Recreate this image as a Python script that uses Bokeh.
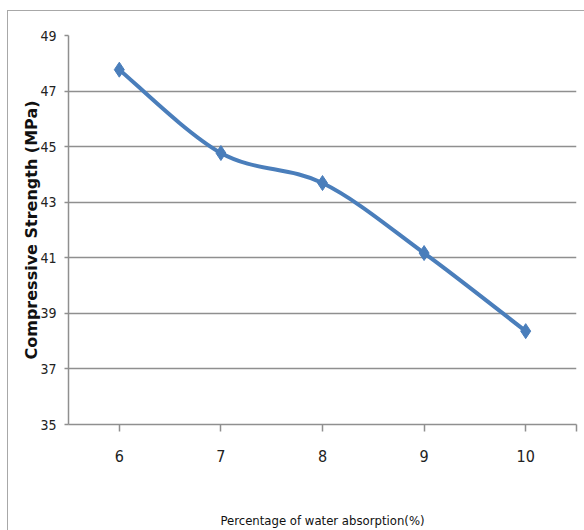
from bokeh.plotting import figure
from bokeh.models import FixedTicker, ColumnDataSource, BoxAnnotation
from bokeh.embed import file_html
from bokeh.resources import INLINE

# data
absorption = [6, 7, 8, 9, 10]
strength = [47.77, 44.77, 43.69, 41.17, 38.36]
y_ticks = [35, 37, 39, 41, 43, 45, 47, 49]
x_ticks = [6, 7, 8, 9, 10]

BLUE = "#4A7EBB"
GRID = "#8f8f8f"
EDGE = "#a8a8a8"
NARROW = "'DejaVu Sans Condensed', 'Liberation Sans', sans-serif"

# smoothed curve (Catmull-Rom style, like Excel's smoothed line)
n = len(absorption)
x0, y0, x1, y1, cx0, cy0, cx1, cy1 = [], [], [], [], [], [], [], []
for i in range(n - 1):
    xa, ya = absorption[i], strength[i]
    xb, yb = absorption[i + 1], strength[i + 1]
    xp, yp = (absorption[i - 1], strength[i - 1]) if i > 0 else (xa, ya)
    xn, yn = (absorption[i + 2], strength[i + 2]) if i + 2 < n else (xb, yb)
    x0.append(xa); y0.append(ya); x1.append(xb); y1.append(yb)
    cx0.append(xa + (xb - xp) / 6.0); cy0.append(ya + (yb - yp) / 6.0)
    cx1.append(xb - (xn - xa) / 6.0); cy1.append(yb - (yn - ya) / 6.0)

curve = ColumnDataSource(dict(x0=x0, y0=y0, x1=x1, y1=y1,
                              cx0=cx0, cy0=cy0, cx1=cx1, cy1=cy1))

p = figure(width=584, height=530, x_range=(5.5, 10.5), y_range=(35, 49),
           output_backend="svg", toolbar_location=None,
           min_border_left=68, min_border_right=8, min_border_top=35,
           min_border_bottom=106)
# outer chart-area border (left and top edges visible in the reference)
p.styles = {
    "background": (f"linear-gradient({EDGE},{EDGE}) 7px 10px / 1px 100% no-repeat, "
                   f"linear-gradient({EDGE},{EDGE}) 7px 10px / 100% 1px no-repeat, white")
}
p.outline_line_color = None
p.background_fill_color = "white"
p.border_fill_alpha = 0

border = BoxAnnotation(left=7.5, right=700, top=10.5, bottom=700,
                       left_units="canvas", right_units="canvas",
                       top_units="canvas", bottom_units="canvas",
                       fill_alpha=0, line_color=EDGE, line_width=1,
                       level="overlay")
p.add_layout(border)

p.bezier(x0="x0", y0="y0", x1="x1", y1="y1", cx0="cx0", cy0="cy0",
         cx1="cx1", cy1="cy1", source=curve, line_color=BLUE, line_width=4)
p.scatter(absorption, strength, marker="diamond", size=15,
          fill_color=BLUE, line_color=BLUE)

# grid
p.xgrid.visible = False
p.ygrid.grid_line_color = GRID
p.ygrid.grid_line_width = 1.5
p.ygrid.ticker = FixedTicker(ticks=y_ticks)

# y axis
ya_ = p.yaxis[0]
ya_.ticker = FixedTicker(ticks=y_ticks)
ya_.axis_line_color = GRID
ya_.axis_line_width = 1.5
ya_.major_tick_line_color = GRID
ya_.major_tick_line_width = 1.5
ya_.major_tick_out = 4
ya_.major_tick_in = 0
ya_.minor_tick_line_color = None
ya_.major_label_text_font = NARROW
ya_.major_label_text_font_size = "14px"
ya_.major_label_text_color = "#222222"
ya_.major_label_standoff = 8
ya_.axis_label = "Compressive Strength (MPa)"
ya_.axis_label_text_font = "DejaVu Sans"
ya_.axis_label_text_font_style = "bold"
ya_.axis_label_text_font_size = "16px"
ya_.axis_label_text_color = "#111111"
ya_.axis_label_standoff = -4

# x axis
xa_ = p.xaxis[0]
xa_.ticker = FixedTicker(ticks=x_ticks + [10.5])
xa_.major_label_overrides = {10.5: ""}
xa_.axis_line_color = GRID
xa_.axis_line_width = 1.5
xa_.major_tick_line_color = GRID
xa_.major_tick_line_width = 1.5
xa_.major_tick_out = 7
xa_.major_tick_in = 0
xa_.minor_tick_line_color = None
xa_.major_label_text_font = NARROW
xa_.major_label_text_font_size = "16px"
xa_.major_label_text_color = "#222222"
xa_.major_label_standoff = 18
xa_.axis_label = "Percentage of water absorption(%)"
xa_.axis_label_text_font = NARROW
xa_.axis_label_text_font_style = "normal"
xa_.axis_label_text_font_size = "13px"
xa_.axis_label_text_color = "#111111"
xa_.axis_label_standoff = 48

open("out.html", "w").write(file_html(p, INLINE))
